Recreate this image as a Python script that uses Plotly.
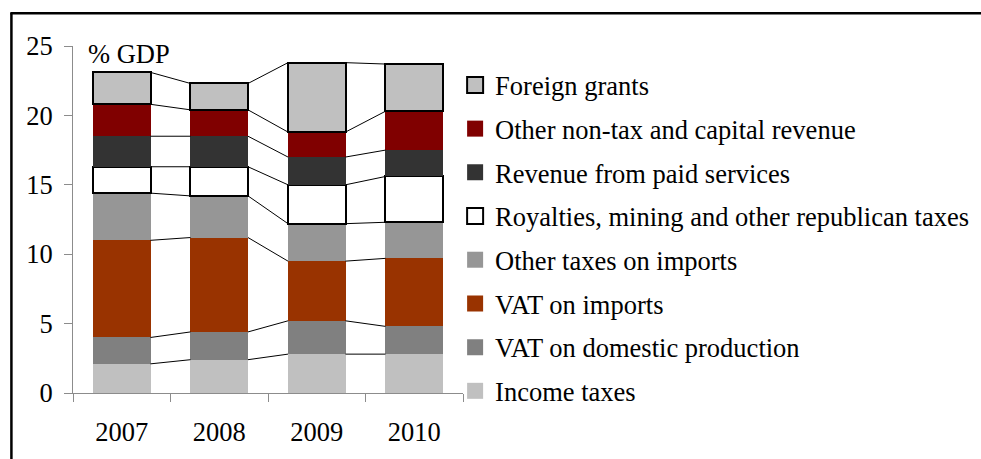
import plotly.graph_objects as go
import numpy as np

# ---- data (% of GDP) ----
years = ["2007", "2008", "2009", "2010"]
series_names = [
    "Income taxes",
    "VAT on domestic production",
    "VAT on imports",
    "Other taxes on imports",
    "Royalties, mining and other republican taxes",
    "Revenue from paid services",
    "Other non-tax and capital revenue",
    "Foreign grants",
]
income_taxes = [2.1, 2.4, 2.8, 2.8]
vat_domestic = [1.9, 2.0, 2.4, 2.0]
vat_imports = [7.0, 6.8, 4.3, 4.9]
other_import_taxes = [3.4, 3.0, 2.7, 2.6]
royalties = [1.9, 2.1, 2.8, 3.3]
paid_services = [2.2, 2.2, 2.0, 1.9]
other_nontax = [2.3, 1.9, 1.8, 2.8]
foreign_grants = [2.3, 1.9, 5.0, 3.4]

series_values = [income_taxes, vat_domestic, vat_imports, other_import_taxes,
                 royalties, paid_services, other_nontax, foreign_grants]
fill_colors = ["#C0C0C0", "#808080", "#993300", "#969696",
               "#FFFFFF", "#333333", "#800000", "#C0C0C0"]
outlined = [False, False, False, False, True, False, False, True]

y_ticks = [0, 5, 10, 15, 20, 25]

# ---- geometry ----
W, H = 981, 459
L, T = 72.7, 46.3
PW, PH = 390.7, 347.0
R = W - L - PW
B = H - T - PH
BAR_W = 0.59
FONT = "Liberation Serif, Times New Roman, serif"
FS = 26.5
LEG_FS = 26.5
LEG_X = 455.5          # px, left edge of legend box
LEG_ROW0 = 86.0        # px, centre of first legend row
LEG_STEP = 43.7        # px between legend rows
LEG_OFF = 24.5         # px from legend box top to row centre


def px_x(p):
    return (p - L) / PW


def px_y(p):
    return (T + PH - p) / PH


xpos = list(range(len(years)))
fig = go.Figure()

# stacked bars
for name, vals, col, out in zip(series_names, series_values, fill_colors, outlined):
    fig.add_trace(go.Bar(
        x=xpos, y=vals, name=name, width=BAR_W,
        marker=dict(color=col, line=dict(color="black", width=2 if out else 0)),
        showlegend=False,
    ))

# series lines joining the top of each series between adjacent bars
tops = np.cumsum(np.array(series_values, dtype=float), axis=0)
for k in range(len(series_names)):
    lx, ly = [], []
    for i in range(len(years) - 1):
        lx += [xpos[i] + BAR_W / 2, xpos[i + 1] - BAR_W / 2, None]
        ly += [tops[k][i], tops[k][i + 1], None]
    fig.add_trace(go.Scatter(x=lx, y=ly, mode="lines",
                             line=dict(color="black", width=1),
                             showlegend=False, hoverinfo="skip"))

# legend entries (top series first), one legend box per row
legend_layout = {}
for row, idx in enumerate(reversed(range(len(series_names)))):
    key = "legend" if row == 0 else f"legend{row + 1}"
    fig.add_trace(go.Scatter(
        x=[None], y=[None], mode="markers", name=series_names[idx],
        legend=key,
        marker=dict(symbol="square", size=16, color=fill_colors[idx],
                    line=dict(color="black", width=2 if outlined[idx] else 0)),
    ))
    legend_layout[key] = dict(
        x=px_x(LEG_X), y=px_y(LEG_ROW0 + row * LEG_STEP - LEG_OFF),
        xanchor="left", yanchor="top",
        font=dict(family=FONT, size=LEG_FS, color="black"),
        bgcolor="rgba(0,0,0,0)", borderwidth=0,
    )

fig.update_layout(
    width=W, height=H,
    margin=dict(l=L, r=R, t=T, b=B, pad=0, autoexpand=False),
    paper_bgcolor="white", plot_bgcolor="white",
    barmode="stack",
    font=dict(family=FONT, size=FS, color="black"),
    showlegend=True,
    xaxis=dict(
        range=[-0.5, len(years) - 0.5],
        tickmode="array", tickvals=xpos, ticktext=years,
        ticks="", showgrid=False, zeroline=False,
        showline=True, linecolor="#8C8C8C", linewidth=1,
        minor=dict(tick0=0.5, dtick=1, ticks="outside", ticklen=8,
                   tickcolor="#8C8C8C", showgrid=False),
        tickfont=dict(family=FONT, size=FS),
        ticklabelstandoff=15,
    ),
    yaxis=dict(
        range=[0, 25], tickmode="array", tickvals=y_ticks,
        ticks="outside", ticklen=8, tickcolor="#8C8C8C",
        showgrid=False, zeroline=False,
        showline=True, linecolor="#8C8C8C", linewidth=1,
        tickfont=dict(family=FONT, size=FS),
        ticklabelstandoff=6,
    ),
    annotations=[dict(
        text="% GDP", xref="paper", yref="paper",
        x=px_x(86), y=px_y(54), xanchor="left", yanchor="middle",
        showarrow=False, font=dict(family=FONT, size=FS, color="black"),
    )],
    shapes=[
        dict(type="line", xref="paper", yref="paper",
             x0=px_x(11), x1=px_x(11), y0=px_y(13), y1=px_y(470),
             line=dict(color="black", width=2.5)),
        dict(type="line", xref="paper", yref="paper",
             x0=px_x(10), x1=px_x(990), y0=px_y(13.5), y1=px_y(13.5),
             line=dict(color="black", width=2.5)),
    ],
)
fig.update_layout(**legend_layout)

fig.write_html("out.html",
               config={"displayModeBar": False},
               post_script="document.body.style.margin='0px';document.body.style.overflow='hidden';")
